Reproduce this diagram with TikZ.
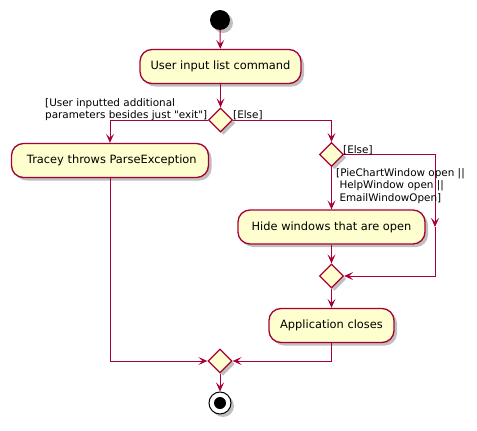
\documentclass[tikz,border=0pt]{standalone}
\usepackage{fontspec}
\newfontfamily\umlfont{DejaVu Sans}
\usetikzlibrary{shapes.geometric,arrows.meta,shadows}

\definecolor{umlred}{HTML}{A80036}
\definecolor{umlfill}{HTML}{FEFECE}

\tikzset{
  umlshadow/.style={drop shadow={shadow xshift=3pt,shadow yshift=-3pt,opacity=0.25,fill=black}},
  action/.style={rectangle,rounded corners=12pt,draw=umlred,line width=1.3pt,fill=umlfill,
    umlshadow,minimum height=34pt,inner sep=0pt,font=\umlfont\fontsize{11.4}{14}\selectfont},
  decision/.style={diamond,draw=umlred,line width=1.3pt,fill=umlfill,umlshadow,
    minimum width=24pt,minimum height=24pt,inner sep=0pt},
  flow/.style={draw=umlred,line width=1pt,-{Stealth[length=9pt,width=8pt,inset=4pt]}},
  guard/.style={inner sep=0pt,align=left,font=\umlfont\fontsize{10.4}{12.2}\selectfont}
}

\begin{document}
\begin{tikzpicture}[x=1pt,y=-1pt]

      \useasboundingbox (0,0) rectangle (477,431);

      % start and end
      \node (start) at (220,20) [circle,fill=black,minimum size=20pt,inner sep=0pt,umlshadow] {};
      \node (end) at (220,403) [circle,draw=black,line width=1pt,fill=white,minimum size=22pt,inner sep=0pt,umlshadow] {};
      \node (enddot) at (220,403) [circle,fill=black,minimum size=12pt,inner sep=0pt] {};

      \begin{scope}[every node/.style={action}]
        \node (input)  at (220.5,66.5) [minimum width=161pt] {User input list command};
        \node (tracey) at (110,160.5)  [minimum width=197pt] {\ Tracey throws ParseException};
        \node (hide)   at (331.5,227)  [minimum width=187pt] {Hide windows that are open};
        \node (close)  at (331.5,325.5)[minimum width=125pt] {Application closes};
      \end{scope}

      \begin{scope}[every node/.style={decision}]
        \node (d1) at (220.5,120) {};
        \node (d2) at (331.5,154.5) {};
        \node (d3) at (331.5,276) {};
        \node (d4) at (220,361) {};
      \end{scope}

      \coordinate (looptop) at (435,154.5);
      \coordinate (loopmid) at (435,227);
      \coordinate (loopbot) at (435,276);

      % connectors
      \path[flow] (start) -- (input);
      \path[flow] (input) -- (d1);
      \path[flow] (d1.west) -| (tracey.north);
      \path[flow] (d1.east) -| (d2.north);
      \path[flow] (d2) -- (hide);
      \path[flow] (d2.east) -- (looptop) -- (loopmid);
      \path[flow] (loopmid) -- (loopbot) -- (d3.east);
      \path[flow] (hide) -- (d3);
      \path[flow] (d3) -- (close);
      \path[flow] (tracey.south) |- (d4.west);
      \path[flow] (close.south) |- (d4.east);
      \path[flow] (d4) -- (end);

      % guards
      \node[guard,anchor=north west] (g1) at (45,98.5) {[User inputted additional\\parameters besides just "exit"]};
      \node[guard,anchor=base west] (g2) at (233,118) {[Else]};
      \node[guard,anchor=base west] (g3) at (343,153) {[Else]};
      \node[guard,anchor=north west] (g4) at (336,168.5) {[PieChartWindow open ||\\\ HelpWindow open ||\\\ EmailWindowOpen]};

    \end{tikzpicture}
\end{document}
